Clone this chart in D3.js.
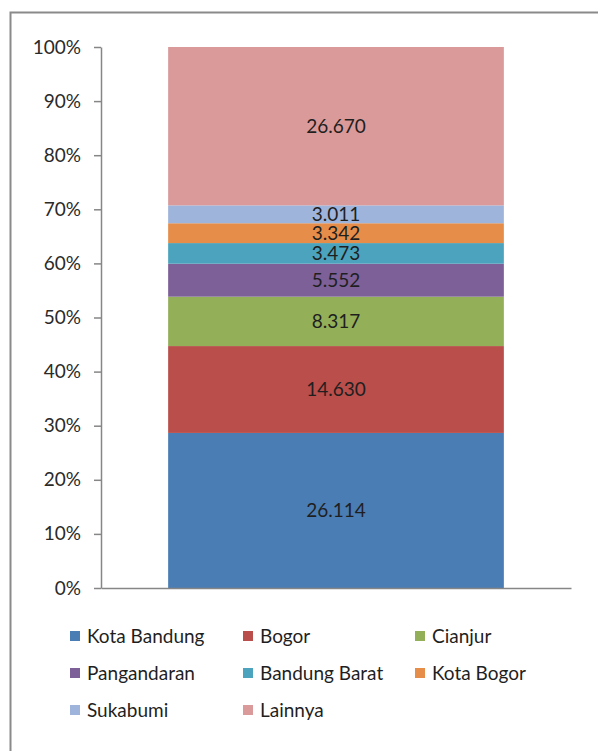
<!DOCTYPE html>
<html>
<head>
<meta charset="utf-8">
<script src="https://cdn.jsdelivr.net/npm/d3@7"></script>
<style>
  body { margin: 0; background: #fff; }
  svg { display: block; font-family: Lato, "Open Sans", sans-serif; }
</style>
</head>
<body>
<div id="viz"></div>
<script>
var categories = ['Kota Bandung', 'Bogor', 'Cianjur', 'Pangandaran', 'Bandung Barat', 'Kota Bogor', 'Sukabumi', 'Lainnya'],
    values = [26114, 14630, 8317, 5552, 3473, 3342, 3011, 26670],
    colorList = ['#4A7DB4', '#B94E4B', '#93AF58', '#7D6098', '#4BA3BD', '#E68D4A', '#9EB4DA', '#DA9A9A'],
    yTicks = [0, 0.1, 0.2, 0.3, 0.4, 0.5, 0.6, 0.7, 0.8, 0.9, 1];

var width = 598, height = 751,
    plot = { left: 101, right: 571, top: 47, bottom: 588 },
    fontSize = 19;

var idLocale = d3.formatLocale({ decimal: ',', thousands: '.', grouping: [3], currency: ['Rp', ''] }),
    fmt = idLocale.format(',d');

var row = {};
categories.forEach(function(c, i) { row[c] = values[i]; });

var series = d3.stack()
  .keys(categories)
  .offset(d3.stackOffsetExpand)([row]);

var yScale = d3.scaleLinear()
  .domain([0, 1])
  .range([plot.bottom, plot.top]);

var xScale = d3.scaleBand()
  .domain(['total'])
  .range([plot.left, plot.right])
  .paddingInner(0)
  .paddingOuter(0.2);

var colors = d3.scaleOrdinal()
  .domain(categories)
  .range(colorList);

var svg = d3.select('#viz').append('svg')
  .attr('width', width)
  .attr('height', height);

// chart border (runs off the right and bottom of the picture)
svg.append('rect')
  .attr('x', 10.5).attr('y', 12.5)
  .attr('width', 700).attr('height', 800)
  .attr('fill', 'none')
  .attr('stroke', '#8a8a8a')
  .attr('stroke-width', 2);

var bars = svg.append('g');

bars.selectAll('rect').data(series)
  .enter().append('rect')
    .attr('x', xScale('total'))
    .attr('width', xScale.bandwidth())
    .attr('y', function(d) { return yScale(d[0][1]); })
    .attr('height', function(d) { return yScale(d[0][0]) - yScale(d[0][1]); })
    .attr('fill', function(d) { return colors(d.key); });

bars.selectAll('text').data(series)
  .enter().append('text')
    .attr('x', xScale('total') + xScale.bandwidth() / 2)
    .attr('y', function(d) { return (yScale(d[0][0]) + yScale(d[0][1])) / 2; })
    .attr('dy', '0.36em')
    .attr('text-anchor', 'middle')
    .attr('font-size', fontSize)
    .attr('fill', '#1f1f1f')
    .text(function(d) { return fmt(values[categories.indexOf(d.key)]); });

var yAxis = d3.axisLeft(yScale)
  .tickValues(yTicks)
  .tickFormat(d3.format('.0%'))
  .tickSizeInner(7)
  .tickSizeOuter(0)
  .tickPadding(13);

var yGuide = svg.append('g')
  .attr('transform', 'translate(' + plot.left + ',0)')
  .call(yAxis);

yGuide.select('.domain').attr('stroke', '#868686').attr('stroke-width', 1.5);
yGuide.selectAll('.tick line').attr('stroke', '#868686').attr('stroke-width', 1.5);
yGuide.selectAll('.tick text')
  .attr('font-size', fontSize)
  .attr('fill', '#2a2a2a')
  .attr('font-family', 'Lato, sans-serif');

var xGuide = svg.append('g')
  .attr('transform', 'translate(0,' + plot.bottom + ')')
  .call(d3.axisBottom(xScale).tickSize(0).tickFormat(''));

xGuide.select('.domain').attr('stroke', '#868686').attr('stroke-width', 1.5);

// legend, three columns
var legendCols = [70, 243, 415],
    legendRows = [636, 673, 710];

var legend = svg.append('g').selectAll('g').data(categories)
  .enter().append('g')
    .attr('transform', function(d, i) {
      return 'translate(' + legendCols[i % 3] + ',' + legendRows[Math.floor(i / 3)] + ')';
    });

legend.append('rect')
  .attr('x', 0).attr('y', -5)
  .attr('width', 10).attr('height', 10)
  .attr('fill', function(d) { return colors(d); });

legend.append('text')
  .attr('x', 17)
  .attr('dy', '0.36em')
  .attr('font-size', fontSize)
  .attr('fill', '#1f1f1f')
  .text(function(d) { return d; });
</script>
</body>
</html>
